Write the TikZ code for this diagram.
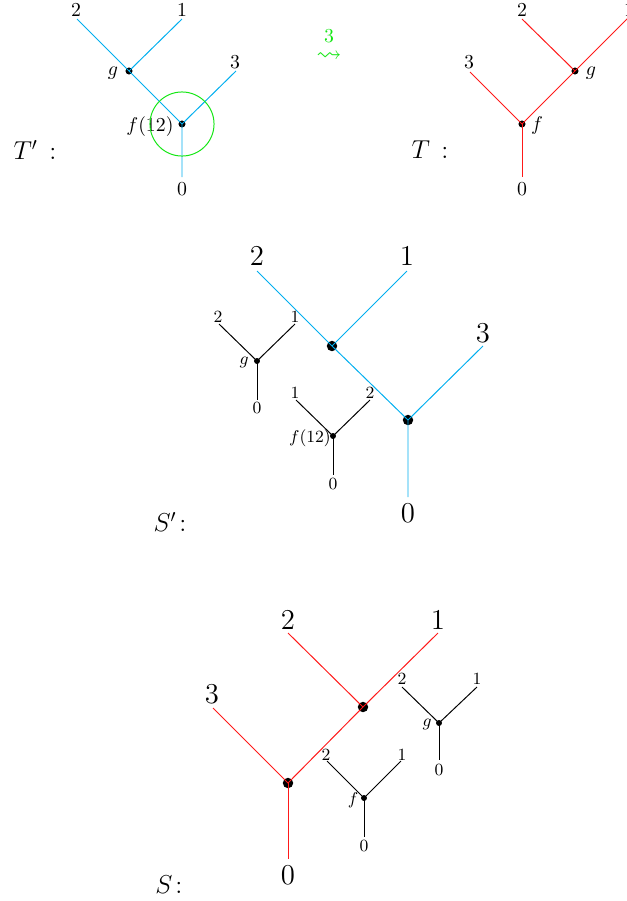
\RequirePackage{fix-cm}
\documentclass[tikz,border=0pt]{standalone}
\usepackage{amssymb}
\definecolor{tblue}{RGB}{0,174,239}
\definecolor{tred}{RGB}{255,25,25}
\definecolor{tgreen}{RGB}{20,230,20}
\begin{document}
\begin{tikzpicture}[x=0.5556pt,y=-0.5556pt,
  dotS/.style={circle,fill=black,inner sep=0pt,minimum size=3.9pt},
  dotB/.style={circle,fill=black,inner sep=0pt,minimum size=5.8pt},
  dotX/.style={circle,fill=black,inner sep=0pt,minimum size=3.3pt},
  labM/.style={inner sep=0pt,font=\fontsize{11}{13}\selectfont},
  labB/.style={inner sep=0pt,font=\fontsize{16}{19}\selectfont},
  labX/.style={inner sep=0pt,font=\fontsize{9.5}{11}\selectfont},
  treename/.style={inner sep=0pt,font=\fontsize{14.4}{17}\selectfont},
  bl/.style={tblue,line width=0.55pt},
  rd/.style={tred,line width=0.55pt},
  bk/.style={black,line width=0.55pt}]
\path[use as bounding box] (0,0) rectangle (626,901);

% ---------------- T' ----------------
\node[dotS] (Tpg) at (129,71) {};
\node[dotS] (Tpf) at (182,124) {};
\coordinate (Tp2e) at (77,19);
\coordinate (Tp1e) at (182,19);
\coordinate (Tp3e) at (236,71);
\coordinate (Tp0e) at (182,177);
\draw[bl] (Tp2e) -- (Tpg.center) -- (Tpf.center) -- (Tp0e);
\draw[bl] (Tp1e) -- (Tpg.center);
\draw[bl] (Tp3e) -- (Tpf.center);
\node[labM] (Tp2) at (76,10) {$2$};
\node[labM] (Tp1) at (182,10) {$1$};
\node[labM] (Tp3) at (235,62) {$3$};
\node[labM] (Tp0) at (182,189) {$0$};
\node[labM] (Tpgl) at (113,73) {$g$};
\node[labM] (Tpfl) at (150,127) {$f(12)$};
\node[circle,draw=tgreen,line width=0.55pt,inner sep=0pt,minimum size=35.6pt] (Tpc) at (Tpf) {};
\node[treename] (Tpn) at (35,150) {$T'\,:$};

% arrow
\node[inner sep=0pt,text=tgreen,font=\fontsize{11}{13}\selectfont] (A3) at (329,36) {$3$};
\node[inner sep=0pt,text=tgreen,font=\fontsize{14}{16}\selectfont] (Aar) at (329,57) {$\rightsquigarrow$};

% ---------------- T ----------------
\node[dotS] (Tf) at (522,124) {};
\node[dotS] (Tg) at (575,71) {};
\coordinate (T3e) at (470,72);
\coordinate (T2e) at (522,19);
\coordinate (T1e) at (628,18);
\coordinate (T0e) at (522,177);
\draw[rd] (T3e) -- (Tf.center) -- (Tg.center) -- (T1e);
\draw[rd] (T2e) -- (Tg.center);
\draw[rd] (Tf.center) -- (T0e);
\node[labM] (T3) at (469,62) {$3$};
\node[labM] (T2) at (522,10) {$2$};
\node[labM] (T1) at (629,10) {$1$};
\node[labM] (T0) at (522,189) {$0$};
\node[labM] (Tgl) at (591,73) {$g$};
\node[labM] (Tfl) at (537,126) {$f$};
\node[treename] (Tn) at (430,150) {$T\,:$};

% ---------------- S' ----------------
\node[dotB] (SpA) at (332,346) {};
\node[dotB] (SpB) at (408,420) {};
\coordinate (Sp2e) at (257,271);
\coordinate (Sp1e) at (407,271);
\coordinate (Sp3e) at (483,346);
\coordinate (Sp0e) at (408,497);
\draw[bl] (Sp2e) -- (SpA.center) -- (SpB.center) -- (Sp0e);
\draw[bl] (Sp1e) -- (SpA.center);
\draw[bl] (Sp3e) -- (SpB.center);
\node[labB] (Sp2) at (257,256) {$2$};
\node[labB] (Sp1) at (407,256) {$1$};
\node[labB] (Sp3) at (483,333) {$3$};
\node[labB] (Sp0) at (408,513) {$0$};
% subtree g
\node[dotX] (Spg) at (257,361) {};
\coordinate (Spg2e) at (219,324);
\coordinate (Spg1e) at (295,324);
\coordinate (Spg0e) at (257,400);
\draw[bk] (Spg2e) -- (Spg.center) -- (Spg1e);
\draw[bk] (Spg.center) -- (Spg0e);
\node[labX] (Spg2) at (218,317) {$2$};
\node[labX] (Spg1) at (295,317) {$1$};
\node[labX] (Spg0) at (257,408) {$0$};
\node[labX] (Spgl) at (244,362) {$g$};
% subtree f(12)
\node[dotX] (Spf) at (333,436) {};
\coordinate (Spf1e) at (296,400);
\coordinate (Spf2e) at (370,400);
\coordinate (Spf0e) at (333,475);
\draw[bk] (Spf1e) -- (Spf.center) -- (Spf2e);
\draw[bk] (Spf.center) -- (Spf0e);
\node[labX] (Spf1) at (295,393) {$1$};
\node[labX] (Spf2) at (370,393) {$2$};
\node[labX] (Spf0) at (333,484) {$0$};
\node[labX] (Spfl) at (310,438) {$f(12)$};
\node[treename] (Spn) at (170,522) {$S'\!:$};

% ---------------- S ----------------
\node[dotB] (SC) at (288,783) {};
\node[dotB] (SD) at (363,707) {};
\coordinate (S3e) at (213,708);
\coordinate (S2e) at (288,633);
\coordinate (S1e) at (438,633);
\coordinate (S0e) at (288,859);
\draw[rd] (S3e) -- (SC.center) -- (SD.center) -- (S1e);
\draw[rd] (S2e) -- (SD.center);
\draw[rd] (SC.center) -- (S0e);
\node[labB] (S3) at (212,694) {$3$};
\node[labB] (S2) at (288,620) {$2$};
\node[labB] (S1) at (438,620) {$1$};
\node[labB] (S0) at (288,875) {$0$};
% subtree f
\node[dotX] (Sf) at (364,798) {};
\coordinate (Sf2e) at (327,761);
\coordinate (Sf1e) at (401,761);
\coordinate (Sf0e) at (364,837);
\draw[bk] (Sf2e) -- (Sf.center) -- (Sf1e);
\draw[bk] (Sf.center) -- (Sf0e);
\node[labX] (Sf2) at (326,755) {$2$};
\node[labX] (Sf1) at (402,755) {$1$};
\node[labX] (Sf0) at (364,846) {$0$};
\node[labX] (Sfl) at (353,800) {$f$};
% subtree g
\node[dotX] (Sg) at (439,723) {};
\coordinate (Sg2e) at (402,687);
\coordinate (Sg1e) at (477,687);
\coordinate (Sg0e) at (439,760);
\draw[bk] (Sg2e) -- (Sg.center) -- (Sg1e);
\draw[bk] (Sg.center) -- (Sg0e);
\node[labX] (Sg2) at (402,679) {$2$};
\node[labX] (Sg1) at (477,679) {$1$};
\node[labX] (Sg0) at (439,770) {$0$};
\node[labX] (Sgl) at (427,724) {$g$};
\node[treename] (Sn) at (169,885) {$S\!:$};
\end{tikzpicture}
\end{document}
